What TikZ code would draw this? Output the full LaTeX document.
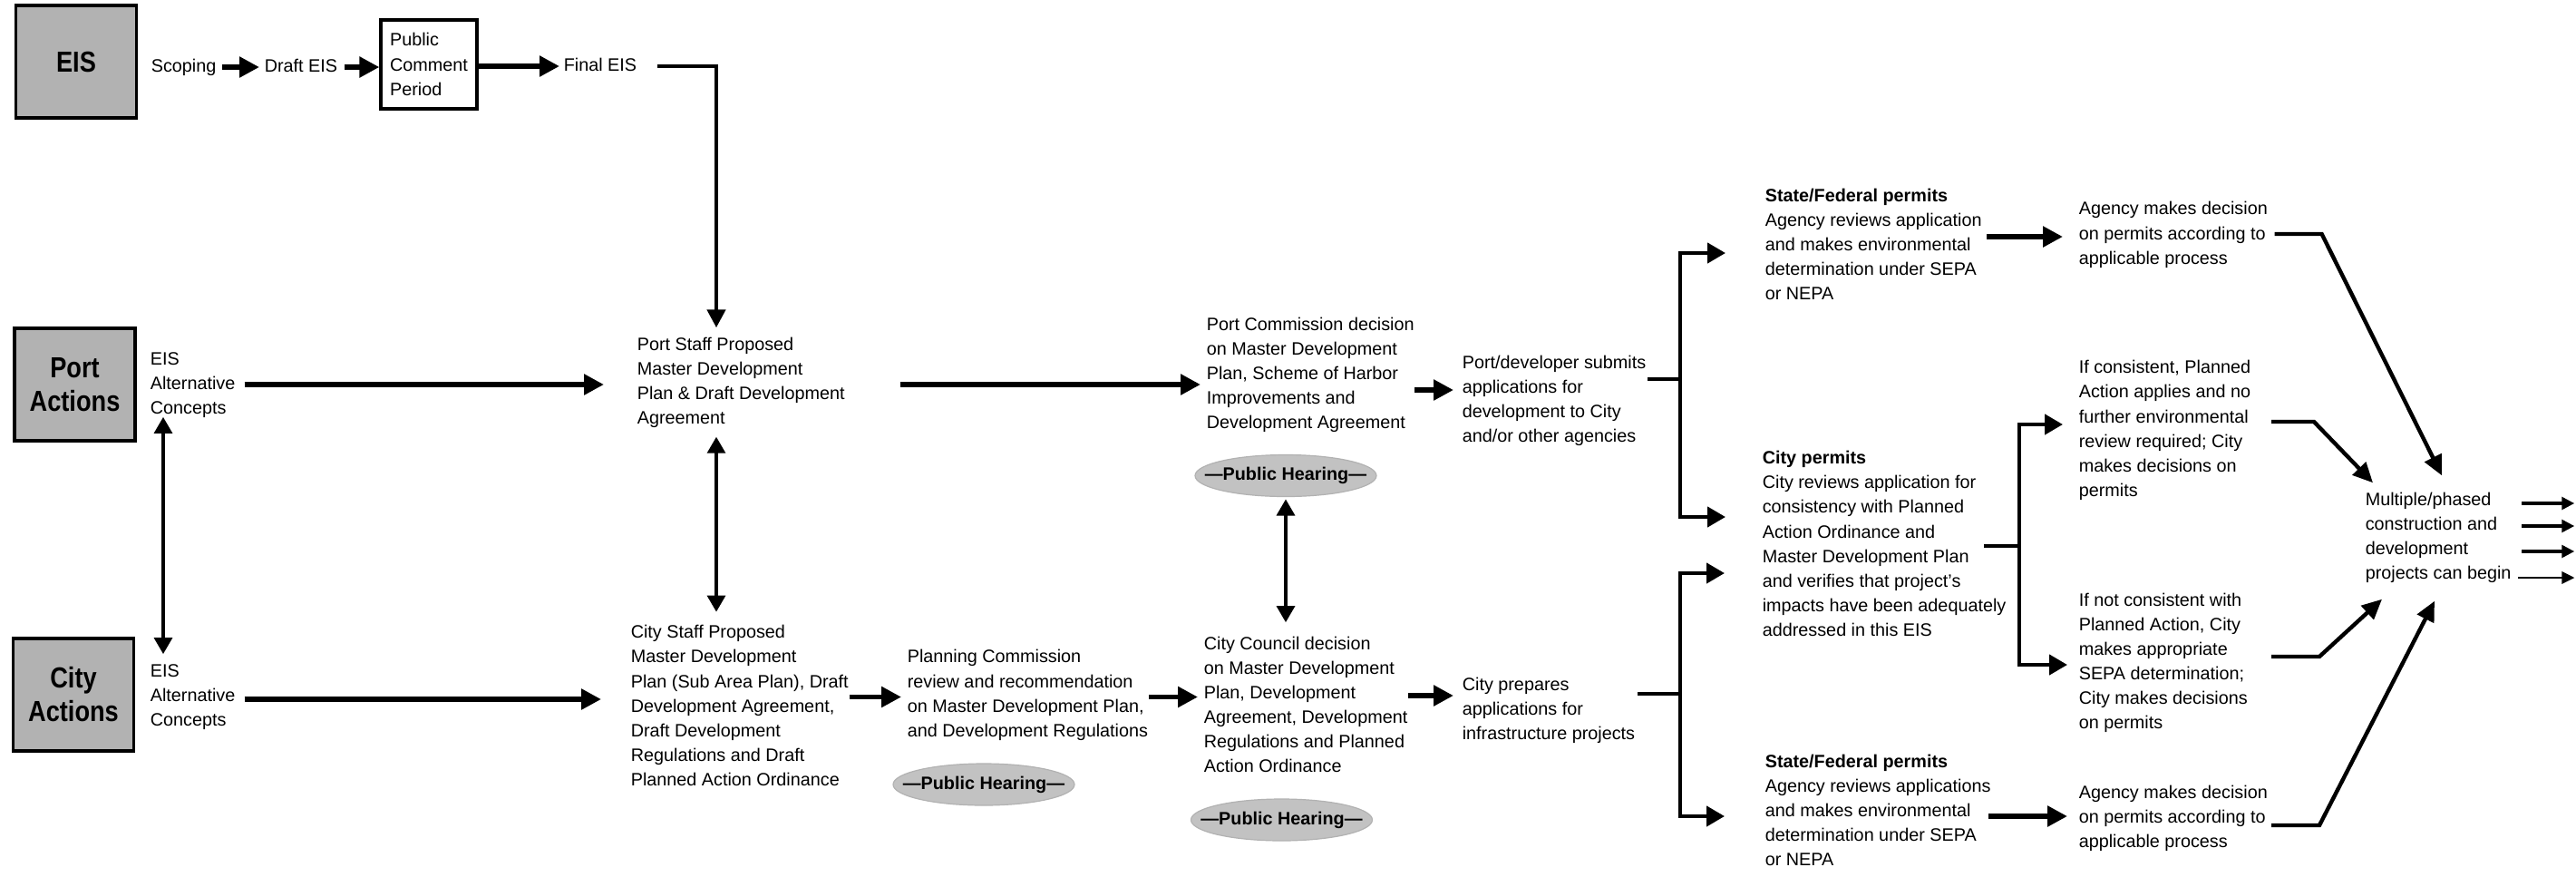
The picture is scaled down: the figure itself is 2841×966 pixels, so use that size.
\documentclass[tikz,border=0pt]{standalone}
\usepackage{fontspec}
\setmainfont{Liberation Sans}
\newfontfamily\headfont{Liberation Sans}[FakeStretch=0.85]
\usetikzlibrary{arrows.meta,shapes.geometric,calc}
\tikzset{
  tf/.style={font=\fontsize{4.95}{6.78}\selectfont},
  txt/.style={tf, anchor=west, inner sep=0pt, align=left, execute at begin node=\strut, execute at end node=\strut},
  headbox/.style={draw=black, line width=0.9pt, fill=black!30, minimum width=33.25pt, minimum height=31pt, inner sep=0pt, align=center, font=\headfont\bfseries\fontsize{8}{9.25}\selectfont},
  pcpbox/.style={tf, draw=black, line width=0.8pt, minimum width=26.5pt, minimum height=24.5pt, inner sep=0pt, align=left},
  hearshape/.style={ellipse, fill=black!24, draw=black!30, line width=0.3pt, minimum width=50pt, minimum height=11.5pt, inner sep=0pt},
  heartext/.style={inner sep=0pt, font=\bfseries\fontsize{4.95}{6}\selectfont},
  arr/.style={line width=1.4pt, -{Triangle[length=5.5pt,width=5.5pt]}},
  darr/.style={line width=0.8pt, {Triangle[length=4.5pt,width=5pt]}-{Triangle[length=4.5pt,width=5pt]}},
  brk/.style={line width=1.1pt},
  barr/.style={line width=1.1pt, -{Triangle[length=5pt,width=5.5pt]}},
  diag/.style={line width=1.1pt, -{Triangle[length=5.5pt,width=5pt]}},
  oarr/.style={line width=0.9pt, -{Triangle[length=3.5pt,width=3.4pt]}},
}
\begin{document}
\begin{tikzpicture}[x=0.25pt,y=-0.25pt]
\fill[white] (0,0) rectangle (2841,966);
\useasboundingbox (0,0) rectangle (2841,966);

% headings
\node[headbox] (eis) at (84,68) {EIS};
\node[headbox] (port) at (82.5,424) {Port\\Actions};
\node[headbox] (city) at (81,766) {City\\Actions};

% EIS row
\node[txt] (scoping) at (166,74) {Scoping};
\node[txt] (drafteis) at (291,74) {Draft EIS};
\node[pcpbox] (pcp) at (473,71) {Public\\Comment\\Period};
\node[txt] (finaleis) at (621,73) {Final EIS};

% port / city rows
\node[txt] (portalt) at (165,427) {EIS\\Alternative\\Concepts};
\node[txt] (cityalt) at (165,771) {EIS\\Alternative\\Concepts};
\node[txt] (portstaff) at (702,424) {Port Staff Proposed\\Master Development\\Plan \& Draft Development\\Agreement};
\node[txt] (citystaff) at (695,782) {City Staff Proposed\\Master Development\\Plan (Sub Area Plan), Draft\\Development Agreement,\\Draft Development\\Regulations and Draft\\Planned Action Ordinance};
\node[txt] (planning) at (1000,768.5) {Planning Commission\\review and recommendation\\on Master Development Plan,\\and Development Regulations};
\node[txt] (portcomm) at (1330,415.5) {Port Commission decision\\on Master Development\\Plan, Scheme of Harbor\\Improvements and\\Development Agreement};
\node[txt] (council) at (1327,781) {City Council decision\\on Master Development\\Plan, Development\\Agreement, Development\\Regulations and Planned\\Action Ordinance};
\node[txt] (portdev) at (1612,444) {Port/developer submits\\applications for\\development to City\\and/or other agencies};
\node[txt] (cityprep) at (1612,785) {City prepares\\applications for\\infrastructure projects};

% hearings
\node[hearshape] (ph1s) at (1418,524.5) {};
\node[heartext] (ph1) at (ph1s) {—Public Hearing—};
\node[hearshape] (ph2s) at (1085,865) {};
\node[heartext] (ph2) at (ph2s) {—Public Hearing—};
\node[hearshape] (ph3s) at (1413.5,904) {};
\node[heartext] (ph3) at (ph3s) {—Public Hearing—};

% permits
\node[txt] (sftop) at (1946,273.5) {\textbf{State/Federal permits}\\Agency reviews application\\and makes environmental\\determination under SEPA\\or NEPA};
\node[txt] (agtop) at (2292,261) {Agency makes decision\\on permits according to\\applicable process};
\node[txt] (citypermits) at (1943,603.5) {\textbf{City permits}\\City reviews application for\\consistency with Planned\\Action Ordinance and\\Master Development Plan\\and verifies that project’s\\impacts have been adequately\\addressed in this EIS};
\node[txt] (ifcons) at (2292,476.5) {If consistent, Planned\\Action applies and no\\further environmental\\review required; City\\makes decisions on\\permits};
\node[txt] (ifnot) at (2292,733) {If not consistent with\\Planned Action, City\\makes appropriate\\SEPA determination;\\City makes decisions\\on permits};
\node[txt] (sfbot) at (1946,897.5) {\textbf{State/Federal permits}\\Agency reviews applications\\and makes environmental\\determination under SEPA\\or NEPA};
\node[txt] (agbot) at (2292,904) {Agency makes decision\\on permits according to\\applicable process};
\node[txt] (multi) at (2608,595) {Multiple/phased\\construction and\\development\\projects can begin};

% helper coordinates
\coordinate (drop) at (790,72);
\coordinate (altx) at (180,0);
\coordinate (br1) at (1853,418);
\coordinate (br2) at (1853,765);
\coordinate (br3) at (2227,602);
\coordinate (cpout) at (2188,602);

% EIS row connectors
\draw[arr, shorten <=1.5pt, shorten >=1.25pt] (scoping.east) -- (drafteis.west);
\draw[arr, shorten <=1.75pt] (drafteis.east) -- (drafteis.east -| pcp.west);
\draw[arr, shorten >=1pt] (pcp.east |- finaleis.west) -- (finaleis.west);
\draw[brk, -{Triangle[length=5pt,width=5pt]}, shorten <=5.5pt, shorten >=2.5pt] (finaleis.east) -| (drop |- portstaff.north);

% vertical double arrows
\draw[darr, shorten <=1.25pt, shorten >=3.5pt] (drop |- portstaff.south) -- (drop |- citystaff.north);
\draw[darr, shorten <=-1.5pt, shorten >=2.75pt] (altx |- portalt.south) -- (altx |- cityalt.north);
\draw[darr, shorten <=0.6pt, shorten >=3.75pt] (ph1s.south) -- (ph1s.south |- council.north);

% horizontal arrows
\draw[arr, shorten <=2.4pt, shorten >=9pt] (portalt.east |- portstaff.west) -- (portstaff.west);
\draw[arr, shorten <=2.4pt, shorten >=8pt] (cityalt.east) -- (cityalt.east -| citystaff.west);
\draw[arr, shorten <=15pt, shorten >=1.5pt] (portstaff.east) -- (portstaff.east -| portcomm.west);
\draw[arr, shorten >=1.5pt] (citystaff.east |- planning.west) -- (planning.west);
\draw[arr, shorten >=1.5pt] (planning.east) -- (planning.east -| council.west);
\draw[arr, shorten >=2.25pt] ($(portcomm.east)+(0,14.5)$) -- ($(portdev.west)+(0,-14)$);
\draw[arr, shorten >=2.25pt] ($(council.east)+(0,-14)$) -- ($(cityprep.west)+(0,-18)$);

% brackets
\draw[brk] ($(portdev.east)+(1,-26)$) -- (br1);
\draw[barr, shorten >=10.75pt] (br1) |- (sftop.west |- 0,279);
\draw[barr, shorten >=10pt] (br1) |- (citypermits.west |- 0,570);
\draw[brk] ($(cityprep.east)+(2,-20)$) -- (br2);
\draw[barr, shorten >=10.25pt] (br2) |- (citypermits.west |- 0,632);
\draw[barr, shorten >=11pt] (br2) |- (sfbot.west |- 0,900);
\draw[brk] (cpout) -- (br3);
\draw[barr, shorten >=4.25pt] (br3) |- (ifcons.west |- 0,468);
\draw[barr, shorten >=3pt] (br3) |- (ifnot.west |- 0,733);

% permit arrows
\draw[arr, shorten >=4.25pt] ($(sftop.east)+(5,-12.5)$) -- (agtop.west);
\draw[arr, shorten >=3pt] ($(sfbot.east)+(-3,2.5)$) -- ($(agbot.west)+(0,-4)$);

% diagonals into final node
\draw[diag] ($(agtop.east)+(7,-3)$) -- ++(52,0) -- ($(multi.north west)+(85,-18)$);
\draw[diag] ($(ifcons.west)+(213,-11.5)$) -- ++(47,0) -- ($(multi.north west)+(9,-10)$);
\draw[diag] ($(ifnot.west)+(213,-9)$) -- ++(53,0) -- ($(multi.south west)+(19,13)$);
\draw[diag] ($(agbot.west)+(213,6)$) -- ++(53,0) -- ($(multi.south west)+(77,15)$);

% output arrows
\draw[oarr] ($(multi.east)+(11,-40)$) -- ++(58,0);
\draw[oarr] ($(multi.east)+(11,-15)$) -- ++(58,0);
\draw[oarr] ($(multi.east)+(11,13)$) -- ++(58,0);
\draw[oarr, line width=0.45pt] ($(multi.east)+(7,42)$) -- ++(62,0);
\end{tikzpicture}
\end{document}
